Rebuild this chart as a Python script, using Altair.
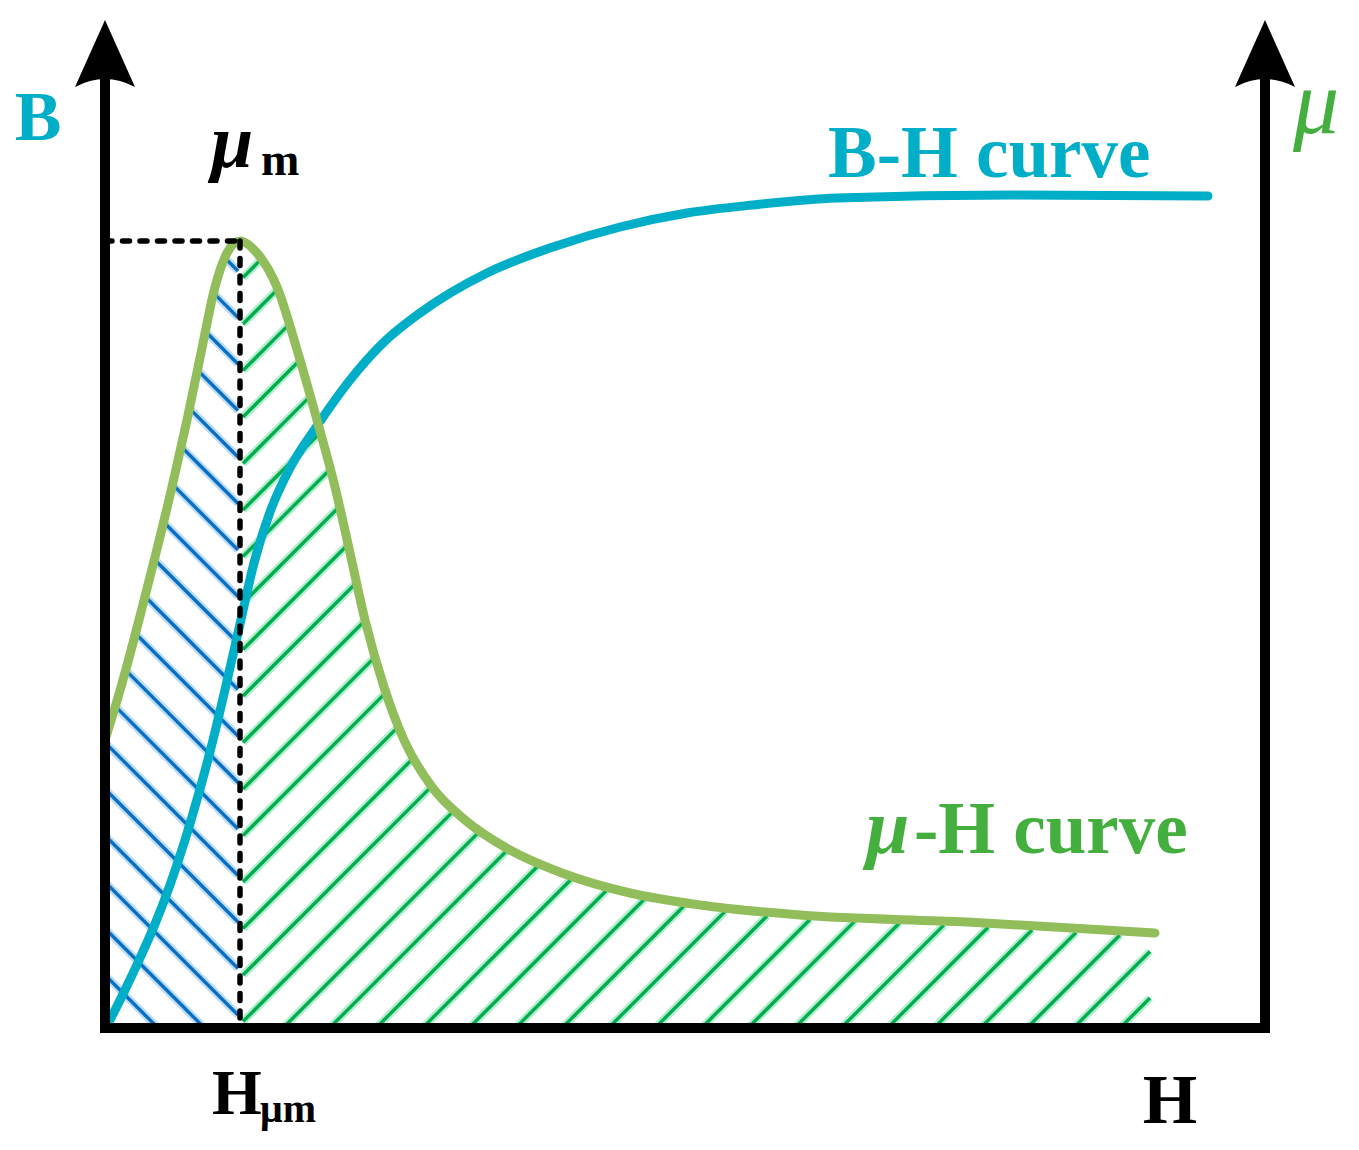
import altair as alt
import pandas as pd
import numpy as np

# ---- data (plot units: H along x, B / mu along y) ----
bh_H = [5, 20, 35, 50, 65, 80, 95, 108, 122, 135, 149, 165, 185, 212, 245, 278, 315, 382, 448, 515, 582, 648, 732, 905, 1103]
bh_B = [8, 38, 70, 104, 143, 188, 239, 288, 347, 404, 465, 516, 560, 602, 648, 685, 715, 755, 781, 801, 815, 823, 830, 833, 832]

mu_H = [0, 16, 34, 51, 67, 82, 96, 110, 122, 135, 152, 172, 193, 212, 230, 245, 260, 279, 299, 327, 360, 405, 457, 525, 595, 695, 862, 1050]
mu_V = [288, 341, 408, 475, 541, 608, 675, 741, 775, 787, 775, 741, 675, 608, 541, 475, 408, 341, 288, 241, 208, 178, 155, 135, 123, 113, 106, 95]

H_MAX = 1160          # right axis position
AX_TOP = 950          # top of axis lines (into arrowhead)
ARROW_V = 968         # arrowhead anchor
HATCH_END = 1045      # right edge of hatched area
HATCH_STEP = 46.5

# ---- colors ----
CYAN = "#00AEC8"
GREEN_CURVE = "#92BD5B"
GREEN_TEXT = "#44AF3E"
BLUE_CORE, BLUE_HALO = "#0A6FC2", "#BCDDF3"
GREEN_CORE, GREEN_HALO = "#00AE4E", "#B5EDD1"

sx = alt.Scale(domain=[-97, 1246], nice=False, zero=False)
sy = alt.Scale(domain=[-114, 1020], nice=False, zero=False)

def X(f="H"):
    return alt.X(f, type="quantitative", scale=sx, axis=None)

def Y(f="V"):
    return alt.Y(f, type="quantitative", scale=sy, axis=None)

# ---- hatch segments clipped to the region under the mu curve ----
mu_peak_V = max(mu_V)
mu_peak_H = mu_H[mu_V.index(mu_peak_V)]

def mu_at(h):
    return np.interp(h, mu_H, mu_V)

blue_rows, green_rows = [], []
hs = np.linspace(0, mu_peak_H - 2, 3000)
for k in range(-5, 60):
    c = 6.5 + k * HATCH_STEP
    v = c - hs
    ok = (v >= 0) & (v <= mu_at(hs) - 4)
    idx = np.where(ok)[0]
    if len(idx) < 2:
        continue
    h0, h1 = hs[idx[0]], hs[idx[-1]]
    blue_rows.append(dict(H=h0, V=c - h0, H2=h1, V2=c - h1))

hs = np.linspace(mu_peak_H + 3, HATCH_END, 8000)
for k in range(-40, 60):
    c = -8 + k * HATCH_STEP
    v = hs - c
    ok = (v >= 0) & (v <= mu_at(hs) - 4)
    idx = np.where(ok)[0]
    if len(idx) < 2:
        continue
    h0, h1 = hs[idx[0]], hs[idx[-1]]
    green_rows.append(dict(H=h0, V=h0 - c, H2=h1, V2=h1 - c))

blue_df = pd.DataFrame(blue_rows)
green_df = pd.DataFrame(green_rows)

def hatch(df, color, width):
    return alt.Chart(df).mark_rule(color=color, strokeWidth=width, strokeCap="butt").encode(
        x=X(), y=Y(), x2="H2:Q", y2="V2:Q")

layers = [
    hatch(blue_df, BLUE_HALO, 8), hatch(green_df, GREEN_HALO, 8),
    hatch(blue_df, BLUE_CORE, 3.4), hatch(green_df, GREEN_CORE, 3.4),
]

# ---- curves ----
bh_df = pd.DataFrame({"H": bh_H, "V": bh_B})
mu_df = pd.DataFrame({"H": mu_H, "V": mu_V})
layers.append(alt.Chart(bh_df).mark_line(color=CYAN, strokeWidth=9, strokeCap="round",
                                         interpolate="monotone").encode(x=X(), y=Y()))
layers.append(alt.Chart(mu_df).mark_line(color=GREEN_CURVE, strokeWidth=9, strokeCap="round",
                                         interpolate="monotone").encode(x=X(), y=Y()))

# ---- dashed guide lines to the peak ----
dash_df = pd.DataFrame([
    dict(H=0, V=mu_peak_V, H2=mu_peak_H, V2=mu_peak_V),
    dict(H=mu_peak_H, V=mu_peak_V, H2=mu_peak_H, V2=0),
])
layers.append(alt.Chart(dash_df).mark_rule(color="black", strokeWidth=5.5, strokeDash=[7, 10.5],
                                           strokeCap="round").encode(
    x=X(), y=Y(), x2="H2:Q", y2="V2:Q"))

# ---- axes ----
axes_df = pd.DataFrame([
    dict(H=0, V=0, H2=0, V2=AX_TOP),
    dict(H=H_MAX, V=0, H2=H_MAX, V2=AX_TOP),
    dict(H=0, V=0, H2=H_MAX, V2=0),
])
layers.append(alt.Chart(axes_df).mark_rule(color="black", strokeWidth=10, strokeCap="square").encode(
    x=X(), y=Y(), x2="H2:Q", y2="V2:Q"))

arrow_df = pd.DataFrame({"H": [0, H_MAX], "V": [ARROW_V, ARROW_V]})
layers.append(alt.Chart(arrow_df).mark_point(
    shape="M0,-1.333L1,0.9Q0,0.367,-1,0.9Z", size=3600, filled=True, opacity=1,
    color="black", strokeWidth=0).encode(x=X(), y=Y()))

# ---- labels ----
def label(text, h, v, size, color="black", style="normal", weight="bold", align="left"):
    df = pd.DataFrame({"H": [h], "V": [v], "t": [text]})
    return alt.Chart(df).mark_text(font="Liberation Serif", fontSize=size, fontWeight=weight,
                                   fontStyle=style, color=color, align=align,
                                   baseline="alphabetic").encode(x=X(), y=Y(), text="t:N")

layers += [
    label("B", -67, 888, 70, CYAN, align="center"),
    label("μ", 1188, 895, 92, GREEN_TEXT, style="italic", weight="normal"),
    label("μ", 106, 861, 76, style="italic"),
    label("m", 156, 853, 46),
    label("B-H curve", 723, 851, 73, CYAN),
    label("μ", 761, 175, 78, GREEN_TEXT, style="italic"),
    label("-H curve", 809, 175, 73, GREEN_TEXT),
    label("H", 1065, -95, 70, align="center"),
    label("H", 107, -86, 64),
    label("μm", 155, -94, 40),
]

chart = alt.layer(*layers).properties(
    width=1343, height=1134,
    autosize=alt.AutoSizeParams(type="none"),
    padding=0,
).configure_view(stroke=None)

chart.save("out.html", embed_options={"renderer": "svg", "actions": False})
